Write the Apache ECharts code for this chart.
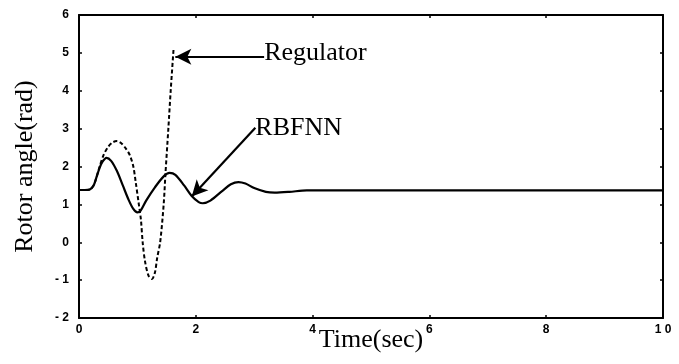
<!DOCTYPE html>
<html>
<head>
<meta charset="utf-8">
<script src="https://cdn.jsdelivr.net/npm/echarts@6/dist/echarts.min.js"></script>
<style>
html,body{margin:0;padding:0;background:#fff;}
#c{width:679px;height:364px;}
</style>
</head>
<body>
<div id="c"></div>
<script>
// Time (sec) and rotor angle (rad)
const rbfTime  = [0, 0.1, 0.18, 0.25, 0.3, 0.35, 0.4, 0.47, 0.55, 0.65, 0.75, 0.85, 0.93, 1.0, 1.05, 1.15, 1.3, 1.45, 1.55, 1.65, 1.8, 1.93, 2.05, 2.12, 2.25, 2.45, 2.6, 2.73, 2.85, 3.0, 3.2, 3.35, 3.6, 3.9, 4.5, 6, 8, 10];
const rbfAngle = [1.38, 1.38, 1.39, 1.5, 1.72, 1.95, 2.12, 2.23, 2.15, 1.88, 1.5, 1.12, 0.88, 0.79, 0.82, 1.1, 1.45, 1.74, 1.83, 1.78, 1.5, 1.22, 1.06, 1.03, 1.1, 1.35, 1.53, 1.59, 1.55, 1.43, 1.33, 1.31, 1.33, 1.37, 1.37, 1.37, 1.37, 1.37];

const regTime  = [0, 0.1, 0.18, 0.25, 0.3, 0.35, 0.42, 0.5, 0.58, 0.65, 0.72, 0.8, 0.87, 0.93, 0.97, 1.02, 1.06, 1.09, 1.13, 1.19, 1.25, 1.3, 1.34, 1.39, 1.45, 1.48, 1.53, 1.57, 1.62];
const regAngle = [1.38, 1.38, 1.39, 1.5, 1.72, 1.98, 2.3, 2.52, 2.64, 2.67, 2.62, 2.48, 2.3, 2.0, 1.6, 1.05, 0.6, 0.0, -0.5, -0.88, -0.97, -0.8, -0.4, 0.0, 1.0, 1.8, 3.0, 4.0, 5.12];

// annotation arrows: [tail, tip] in data units
const regArrow = [[3.17, 4.9], [1.65, 4.9]];
const rbfArrow = [[3.02, 3.02], [1.93, 1.21]];
const regLabel = 'Regulator';
const rbfLabel = 'RBFNN';

const zip = (a, b) => a.map((v, i) => [v, b[i]]);

const serif = '"Liberation Serif", "Times New Roman", serif';
const tickFont = { fontFamily: '"Liberation Sans", Arial, sans-serif', fontWeight: 'bold', fontSize: 12, color: '#000' };
const axisLineStyle = { onZero: false, lineStyle: { color: '#000', width: 2 } };
const tickStyle = { inside: true, length: 3, lineStyle: { color: '#000', width: 1.5 } };

const chart = echarts.init(document.getElementById('c'), null, { renderer: 'canvas' });
chart.setOption({
  animation: false,
  backgroundColor: '#fff',
  grid: { left: 79, right: 16, top: 15, bottom: 46, containLabel: false, outerBoundsMode: 'none' },
  xAxis: [{
    type: 'value', min: 0, max: 10, interval: 2, position: 'bottom',
    name: 'Time(sec)', nameLocation: 'middle', nameGap: 9, nameMoveOverlap: false,
    nameTextStyle: { fontFamily: serif, fontSize: 26, color: '#000' },
    axisLine: axisLineStyle, axisTick: tickStyle,
    axisLabel: Object.assign({ margin: 6, formatter: v => v === 10 ? '1 0' : String(v) }, tickFont),
    splitLine: { show: false }
  }, {
    type: 'value', min: 0, max: 10, interval: 2, position: 'top',
    axisLine: axisLineStyle, axisTick: tickStyle,
    axisLabel: { show: false }, splitLine: { show: false }
  }],
  yAxis: [{
    type: 'value', min: -2, max: 6, interval: 1, position: 'left',
    name: 'Rotor angle(rad)', nameLocation: 'middle', nameGap: 41, nameMoveOverlap: false,
    nameTextStyle: { fontFamily: serif, fontSize: 26, color: '#000' },
    axisLine: axisLineStyle, axisTick: tickStyle,
    axisLabel: Object.assign({ margin: 10, formatter: v => v < 0 ? '- ' + Math.abs(v) : String(v) }, tickFont),
    splitLine: { show: false }
  }, {
    type: 'value', min: -2, max: 6, interval: 1, position: 'right',
    axisLine: axisLineStyle, axisTick: tickStyle,
    axisLabel: { show: false }, splitLine: { show: false }
  }],
  series: [{
    name: 'RBFNN', type: 'line', smooth: 0.3, symbol: 'none',
    data: zip(rbfTime, rbfAngle),
    lineStyle: { color: '#000', width: 2.2 },
    markLine: {
      silent: true, symbol: ['none', 'arrow'], symbolSize: [12, 16],
      lineStyle: { color: '#000', width: 2.2, type: 'solid' },
      label: { show: false },
      data: [[{ coord: rbfArrow[0] }, { coord: rbfArrow[1] }]]
    },
    markPoint: {
      silent: true, symbol: 'circle', symbolSize: 0,
      label: { show: true, position: 'right', distance: 0, formatter: rbfLabel, fontFamily: serif, fontSize: 26, color: '#000' },
      data: [{ coord: rbfArrow[0] }]
    }
  }, {
    name: 'Regulator', type: 'line', smooth: 0.3, symbol: 'none',
    data: zip(regTime, regAngle),
    lineStyle: { color: '#000', width: 2, type: [4, 2.5] },
    markLine: {
      silent: true, symbol: ['none', 'arrow'], symbolSize: [12, 16],
      lineStyle: { color: '#000', width: 2, type: 'solid' },
      label: { show: false },
      data: [[{ coord: regArrow[0] }, { coord: regArrow[1] }]]
    },
    markPoint: {
      silent: true, symbol: 'circle', symbolSize: 0,
      label: { show: true, position: 'right', distance: 0, offset: [0, -3], formatter: regLabel, fontFamily: serif, fontSize: 26, color: '#000' },
      data: [{ coord: regArrow[0] }]
    }
  }]
});
</script>
</body>
</html>
